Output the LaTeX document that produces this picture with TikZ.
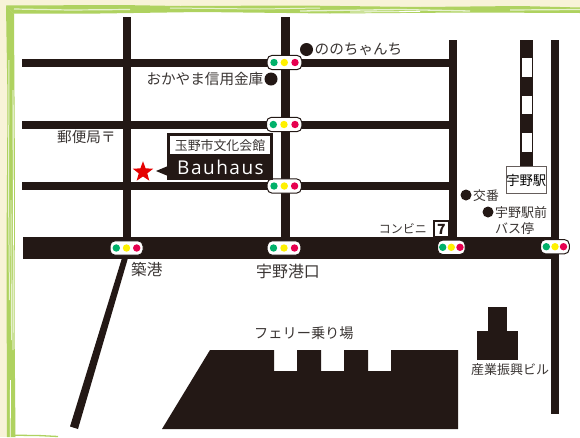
\documentclass[tikz,border=0pt]{standalone}
\usepackage{fontspec}
\setmainfont{Noto Sans CJK JP}
\newfontfamily\latinfont[LetterSpace=8]{Open Sans}
\usetikzlibrary{shapes.geometric}
\definecolor{road}{HTML}{231815}
\definecolor{cream}{HTML}{F8F3D8}
\definecolor{leaf}{HTML}{AFD260}
\definecolor{lampg}{HTML}{00B16A}
\definecolor{lampy}{HTML}{FFF100}
\definecolor{lampr}{HTML}{E6004F}
\definecolor{ink}{HTML}{3A3533}
\tikzset{
  x=1pt,y=-1pt,
  maptext/.style={inner sep=0pt,text=ink,font=\fontsize{#1}{#1}\selectfont},
  maptext/.default=14.6,
  roadfill/.style={fill=road,draw=none},
  brush/.style={draw=leaf,line width=#1},
  streak/.style={draw=white!70!leaf,line width=#1},
  spot/.style={circle,fill=road,draw=none,minimum size=13pt,inner sep=0pt},
  smallspot/.style={circle,fill=road,draw=none,minimum size=11pt,inner sep=0pt},
  lampcase/.style={rounded corners=5pt,fill=white,draw=road,line width=1pt},
  lamp/.style={circle,fill=#1,draw=none,minimum size=7.4pt,inner sep=0pt},
}
\newcommand{\lights}[5]{%
  \draw[lampcase] (#1-#5,#4-7.2) rectangle (#3+#5,#4+7.2);
  \node[lamp=lampg] at (#1,#4) {};
  \node[lamp=lampy] at (#2,#4) {};
  \node[lamp=lampr] at (#3,#4) {};}
\begin{document}
\begin{tikzpicture}
\useasboundingbox (0,0) rectangle (580,437);
% paper and frame
\fill[cream] (0,0) rectangle (580,437);
\fill[white] (10,10) rectangle (580,437);
% top band
\fill[leaf] (6,5.5) -- (120,5) -- (180,6) -- (300,5.5) -- (420,7) -- (520,6) -- (580,7.5) -- (580,13) -- (470,12.5) -- (330,13.5) -- (200,12) -- (100,13.5) -- (14,13.5) -- cycle;
\draw[streak=1.2pt] (14,9) -- (70,10) -- (130,9.5);
\draw[streak=1pt] (170,8) -- (260,9) -- (320,8);
\draw[streak=1.3pt] (300,11) -- (400,9.5) -- (470,11);
\draw[streak=1.2pt] (510,10) -- (580,9.5);
\draw[white,line width=.8pt] (350,12) -- (420,11.5);
% left band
\fill[leaf] (6,5.5) -- (7.5,100) -- (6.5,250) -- (7,437) -- (15.5,437) -- (14.5,320) -- (15,180) -- (14,13.5) -- cycle;
\draw[streak=1pt] (9,60) -- (8.5,190) -- (9.5,300);
\draw[white,line width=.9pt] (10.5,380) -- (10.2,437);
\draw[white,line width=.9pt] (13,90) -- (13.4,210) -- (13,350);
\draw[streak=.9pt] (11,200) -- (11.5,340);
% bottom stroke
\draw[leaf,line width=1.3pt] (15,435.2) -- (40,435.6) -- (58,436.5);
% roads
\fill[roadfill] (22,59) rectangle (450,67);
\fill[roadfill] (22,121) rectangle (450,129);
\fill[roadfill] (22,182) rectangle (450,190);
\fill[roadfill] (123,17) rectangle (131,240);
\fill[roadfill] (281,17) rectangle (290,240);
\fill[roadfill] (449,40) rectangle (456.5,240);
\fill[roadfill] (550.5,40) rectangle (559.3,414);
\fill[roadfill] (23,237) rectangle (552,259);
\fill[roadfill] (122,258) -- (128,258) -- (78,429) -- (70,426.5) -- cycle;
% railway
\fill[roadfill] (520,40) rectangle (532.7,168);
\fill[white] (521.7,58) rectangle (531.5,77);
\fill[white] (521.7,96) rectangle (531.5,114);
\fill[white] (521.7,133) rectangle (531.5,152);
\node[draw=road!70,line width=0.7pt,fill=white,minimum width=40pt,minimum height=26.5pt,inner sep=0pt,text=black,font=\fontsize{13.3}{13.3}\selectfont] (station) at (526.2,180) {宇野駅};
% ferry terminal and building
\fill[roadfill] (210,350) -- (274,350) -- (274,371) -- (297,371) -- (297,350) -- (321,350) -- (321,371) -- (344,371) -- (344,350) -- (368,350) -- (368,371) -- (391,371) -- (391,350) -- (458,350) -- (458,429) -- (162,429) -- cycle;
\fill[roadfill] (488,307) rectangle (507,331);
\fill[roadfill] (477,331) rectangle (518,360);
% traffic lights
\lights{274}{284.3}{295}{62.5}{6.8}
\lights{273.3}{284}{295}{124.5}{6.8}
\lights{274}{284.3}{294.6}{186}{6.8}
\lights{116.3}{126.5}{136.7}{248}{6.3}
\lights{273.5}{284}{294.5}{248}{6.3}
\lights{442.7}{451.3}{460}{247.3}{5.2}
\lights{546.3}{555}{563.5}{246.7}{5.8}
% landmarks
\node[spot] (nono) at (306.5,49.5) {};
\node[maptext,anchor=west] (nonotext) at (314.5,49) {ののちゃんち};
\node[spot] (shinkin) at (271,79) {};
\node[maptext,anchor=east] (shinkintext) at (263.5,79) {おかやま信用金庫};
\node[maptext,anchor=west] (post) at (57,137) {郵便局〒};
\node[smallspot] (koban) at (466,195) {};
\node[maptext=12.8,anchor=west] (kobantext) at (473,196) {交番};
\node[smallspot] (bus) at (488,212) {};
\node[maptext=13,anchor=west] (bustext) at (495,213) {宇野駅前};
\node[maptext=13,anchor=west] (bustext2) at (495,229) {バス停};
\node[maptext=12,anchor=east] (conv) at (427,229) {コンビニ};
\node[draw=road,line width=1.2pt,fill=white,minimum width=15pt,minimum height=16pt,inner sep=0pt,font=\fontsize{14}{14}\selectfont\bfseries,text=road] (seven) at (441.5,229) {7};
\node[maptext=15.6,anchor=west] (tsukiko) at (131,270) {築港};
\node[maptext=15.9,anchor=west] (unoko) at (256,271) {宇野港口};
\node[maptext=14.2,anchor=west] (ferry) at (254,333) {フェリー乗り場};
\node[maptext=13,anchor=west] (sangyo) at (471,370) {産業振興ビル};
% Bauhaus sign
\fill[roadfill] (167,133) rectangle (273,180);
\fill[white] (170,136) rectangle (270,154);
\fill[roadfill] (156,171) -- (168,166) -- (168,176) -- cycle;
\node[maptext=12.9] (hall) at (220,146) {玉野市文化会館};
\node[inner sep=0pt,text=white,font=\latinfont\fontsize{19}{19}\selectfont] (bauhaus) at (220.5,167.5) {Bauhaus};
\node[star,star points=5,star point ratio=2.4,fill=red!90!black,draw=none,minimum size=21.5pt,inner sep=0pt] (mark) at (143,172) {};
\end{tikzpicture}
\end{document}
